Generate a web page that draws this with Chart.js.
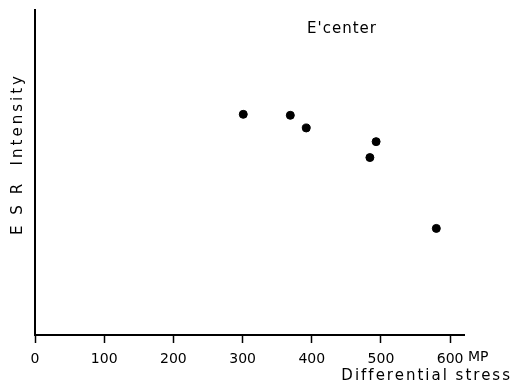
<!DOCTYPE html>
<html>
<head>
<meta charset="utf-8">
<script src="https://cdn.jsdelivr.net/npm/chart.js@4/dist/chart.umd.min.js"></script>
<style>
  body { margin: 0; background: #fff; }
  #wrap { width: 523px; height: 384px; }
</style>
</head>
<body>
<div id="wrap"><canvas id="esrChart" width="523" height="384"></canvas></div>
<script>
// values (x in MPa, y in arbitrary ESR units)
const stressValues = [301, 369, 392, 484, 493, 580];
const intensityValues = [67.9, 67.6, 63.7, 54.6, 59.5, 32.8];
const xTickValues = [0, 100, 200, 300, 400, 500, 600];

const points = stressValues.map((x, i) => ({ x: x, y: intensityValues[i] }));

// extra text labels drawn on the canvas
const textPlugin = {
    id: 'extraText',
    afterDraw(chart) {
        const ctx = chart.ctx;
        ctx.save();
        ctx.fillStyle = '#000';
        ctx.textBaseline = 'middle';

        ctx.font = '15px "DejaVu Sans"';
        ctx.letterSpacing = '1px';
        ctx.textAlign = 'center';
        ctx.fillText("E'center", 342, 29);

        ctx.font = '14px "DejaVu Sans"';
        ctx.textAlign = 'left';
        ctx.letterSpacing = '0px';
        ctx.fillText('MP', 468, 357);

        ctx.font = '15px "DejaVu Sans"';
        ctx.letterSpacing = '2px';
        ctx.textAlign = 'right';
        ctx.fillText('Differential stress', 512, 376);

        // y axis title
        ctx.translate(18, 154);
        ctx.rotate(-Math.PI / 2);
        ctx.textAlign = 'center';
        ctx.letterSpacing = '3px';
        ctx.fillText('E S R  Intensity', 0, 0);
        ctx.restore();
    }
};

new Chart(document.getElementById('esrChart'), {
    type: 'scatter',
    data: {
        datasets: [{
            label: "E'center",
            data: points,
            backgroundColor: '#000',
            borderColor: '#000',
            pointRadius: 4,
            pointHoverRadius: 4
        }]
    },
    options: {
        responsive: false,
        animation: false,
        events: [],
        layout: { padding: { top: 10, right: 59, left: 0, bottom: 0 } },
        plugins: {
            legend: { display: false },
            tooltip: { enabled: false }
        },
        scales: {
            x: {
                type: 'linear',
                min: 0,
                max: 620,
                afterFit(scale) { scale.height = 49; },
                afterBuildTicks(scale) {
                    scale.ticks = xTickValues.map(v => ({ value: v }));
                },
                ticks: {
                    color: '#000',
                    font: { family: 'DejaVu Sans', size: 14 },
                    padding: 8,
                    maxRotation: 0
                },
                grid: {
                    drawOnChartArea: false,
                    drawTicks: true,
                    tickLength: 8,
                    tickWidth: 1.5,
                    tickColor: '#000'
                },
                border: { display: true, color: '#000', width: 2 }
            },
            y: {
                type: 'linear',
                min: 0,
                max: 100,
                afterFit(scale) { scale.width = 35; },
                ticks: { display: false },
                grid: { display: false, drawTicks: false },
                border: { display: true, color: '#000', width: 2 }
            }
        }
    },
    plugins: [textPlugin]
});
</script>
</body>
</html>
